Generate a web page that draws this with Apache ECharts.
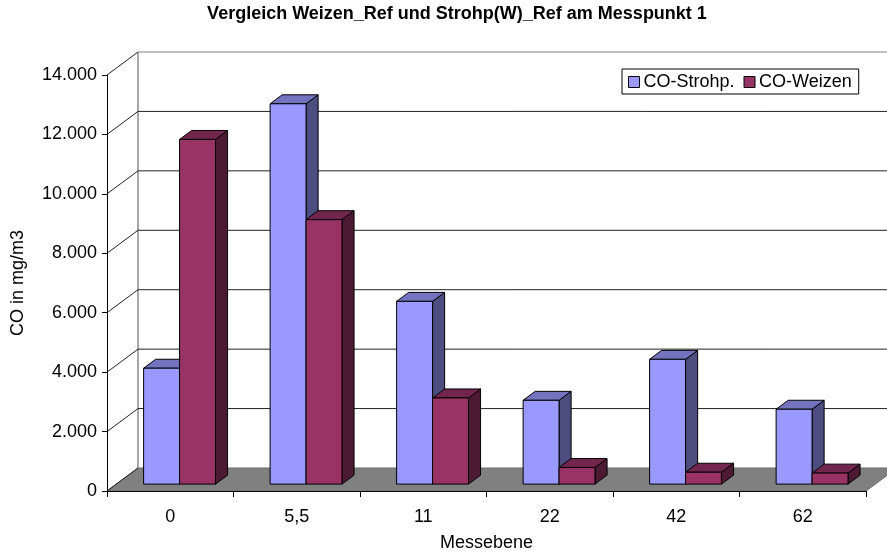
<!DOCTYPE html>
<html>
<head>
<meta charset="utf-8">
<script src="https://cdn.jsdelivr.net/npm/echarts@6/dist/echarts.min.js"></script>
<style>html,body{margin:0;padding:0;background:#fff}#c{width:887px;height:557px}</style>
</head>
<body>
<div id="c"></div>
<script>
const categories = ['0', '5,5', '11', '22', '42', '62'];
const strohp = [3900, 12800, 6150, 2820, 4200, 2520];
const weizen = [11600, 8900, 2900, 560, 400, 370];
const yTicks = [0, 2000, 4000, 6000, 8000, 10000, 12000, 14000];
const seriesNames = ['CO-Strohp.', 'CO-Weizen'];
const titleText = 'Vergleich Weizen_Ref und Strohp(W)_Ref am Messpunkt 1';
const xName = 'Messebene';
const yName = 'CO in mg/m3';

const FONT = 'Liberation Sans, Arial, sans-serif';
// 3D depth of the plot (back wall offset)
const DEPTH_X = 31, DEPTH_Y = -23;
const FRONT_F = 0.30, BAR_DEPTH_F = 0.39;
const BAR_W_F = 0.284;

const palettes = [
  { front: '#9999FF', top: '#7373C0', side: '#4D4D80' },
  { front: '#993366', top: '#73264D', side: '#4D1A33' }
];

function fmt(v) { return String(v).replace(/\B(?=(\d{3})+(?!\d))/g, '.'); }

function barRender(sIdx) {
  return function (params, api) {
    const i = api.value(0), v = api.value(1);
    const base = api.coord([i, 0]);
    const top = api.coord([i, v]);
    const band = api.size([1, 0])[0];
    const bw = band * BAR_W_F;
    const fdx = DEPTH_X * FRONT_F, fdy = DEPTH_Y * FRONT_F;
    const ddx = DEPTH_X * BAR_DEPTH_F, ddy = DEPTH_Y * BAR_DEPTH_F;
    const cx = base[0] + fdx;
    const x1 = sIdx === 0 ? cx - bw : cx;
    const x2 = x1 + bw;
    const yb = base[1] + fdy, yt = top[1] + fdy;
    const pal = palettes[sIdx];
    const st = { stroke: '#000', lineWidth: 1, lineJoin: 'round' };
    return {
      type: 'group',
      children: [
        { type: 'polygon', shape: { points: [[x2, yt], [x2 + ddx, yt + ddy], [x2 + ddx, yb + ddy], [x2, yb]] }, style: Object.assign({ fill: pal.side }, st) },
        { type: 'polygon', shape: { points: [[x1, yt], [x1 + ddx, yt + ddy], [x2 + ddx, yt + ddy], [x2, yt]] }, style: Object.assign({ fill: pal.top }, st) },
        { type: 'polygon', shape: { points: [[x1, yt], [x2, yt], [x2, yb], [x1, yb]] }, style: Object.assign({ fill: pal.front }, st) }
      ]
    };
  };
}

function wallRender(params, api) {
  const cs = params.coordSys;
  const v = api.value(1);
  const y = api.coord([0, v])[1];
  const x0 = cs.x, w = cs.width;
  const children = [];
  if (v === 0) {
    children.push({ type: 'polygon', shape: { points: [[x0, y], [x0 + w, y], [x0 + w + DEPTH_X, y + DEPTH_Y], [x0 + DEPTH_X, y + DEPTH_Y]] }, style: { fill: '#808080', stroke: '#6a6a6a', lineWidth: 1 } });
    const yTop = api.coord([0, yTicks[yTicks.length - 1]])[1];
    children.push({ type: 'line', shape: { x1: x0 + DEPTH_X, y1: y + DEPTH_Y, x2: x0 + DEPTH_X, y2: yTop + DEPTH_Y }, style: { stroke: '#8a8a8a', lineWidth: 1.5 } });
  } else {
    children.push({ type: 'line', shape: { x1: x0 + DEPTH_X, y1: y + DEPTH_Y, x2: x0 + w + DEPTH_X, y2: y + DEPTH_Y }, style: { stroke: v === yTicks[yTicks.length - 1] ? '#808080' : '#222', lineWidth: 1 } });
  }
  children.push({ type: 'line', shape: { x1: x0, y1: y, x2: x0 + DEPTH_X, y2: y + DEPTH_Y }, style: { stroke: '#222', lineWidth: 1 } });
  return { type: 'group', children: children };
}

const chart = echarts.init(document.getElementById('c'), null, { renderer: 'canvas' });
chart.setOption({
  backgroundColor: '#fff',
  animation: false,
  textStyle: { fontFamily: FONT },
  title: {
    text: titleText,
    left: 457, top: 5, textAlign: 'center', padding: 0,
    textStyle: { fontFamily: FONT, fontWeight: 'bold', fontSize: 18, color: '#000' }
  },
  legend: {
    data: seriesNames,
    left: 622, top: 69,
    padding: [4, 7, 3, 6],
    itemWidth: 11, itemHeight: 11, itemGap: 9,
    icon: 'rect',
    borderColor: '#000', borderWidth: 1, backgroundColor: '#fff',
    itemStyle: { borderColor: '#000', borderWidth: 1 },
    textStyle: { fontFamily: FONT, fontSize: 18, color: '#000', padding: [0, 0, 0, -1] }
  },
  grid: { left: 107, right: 21, top: 75, bottom: 65, containLabel: false },
  xAxis: {
    type: 'category', data: categories, z: 10,
    name: xName, nameLocation: 'middle', nameGap: 43,
    nameTextStyle: { fontFamily: FONT, fontSize: 18, color: '#000' },
    axisLine: { show: true, lineStyle: { color: '#000', width: 1 } },
    axisTick: { show: true, length: 6, lineStyle: { color: '#000' } },
    axisLabel: { margin: 17, fontFamily: FONT, fontSize: 18, color: '#000' },
    splitLine: { show: false }
  },
  yAxis: {
    type: 'value', min: 0, max: 14000, interval: 2000, z: 10,
    name: yName, nameLocation: 'middle', nameGap: 80,
    nameTextStyle: { fontFamily: FONT, fontSize: 18, color: '#000' },
    axisLine: { show: true, lineStyle: { color: '#000', width: 1 } },
    axisTick: { show: true, length: 5, lineStyle: { color: '#000' } },
    axisLabel: { margin: 10, fontFamily: FONT, fontSize: 18, color: '#000', formatter: fmt },
    splitLine: { show: false }
  },
  series: [
    { type: 'custom', name: '_wall', z: 1, silent: true, renderItem: wallRender, data: yTicks.map(v => [0, v]), encode: { x: 0, y: 1 } },
    { type: 'custom', name: seriesNames[0], z: 2, itemStyle: { color: palettes[0].front }, renderItem: barRender(0), data: strohp.map((v, i) => [i, v]), encode: { x: 0, y: 1 } },
    { type: 'custom', name: seriesNames[1], z: 2, itemStyle: { color: palettes[1].front }, renderItem: barRender(1), data: weizen.map((v, i) => [i, v]), encode: { x: 0, y: 1 } }
  ]
});
</script>
</body>
</html>
